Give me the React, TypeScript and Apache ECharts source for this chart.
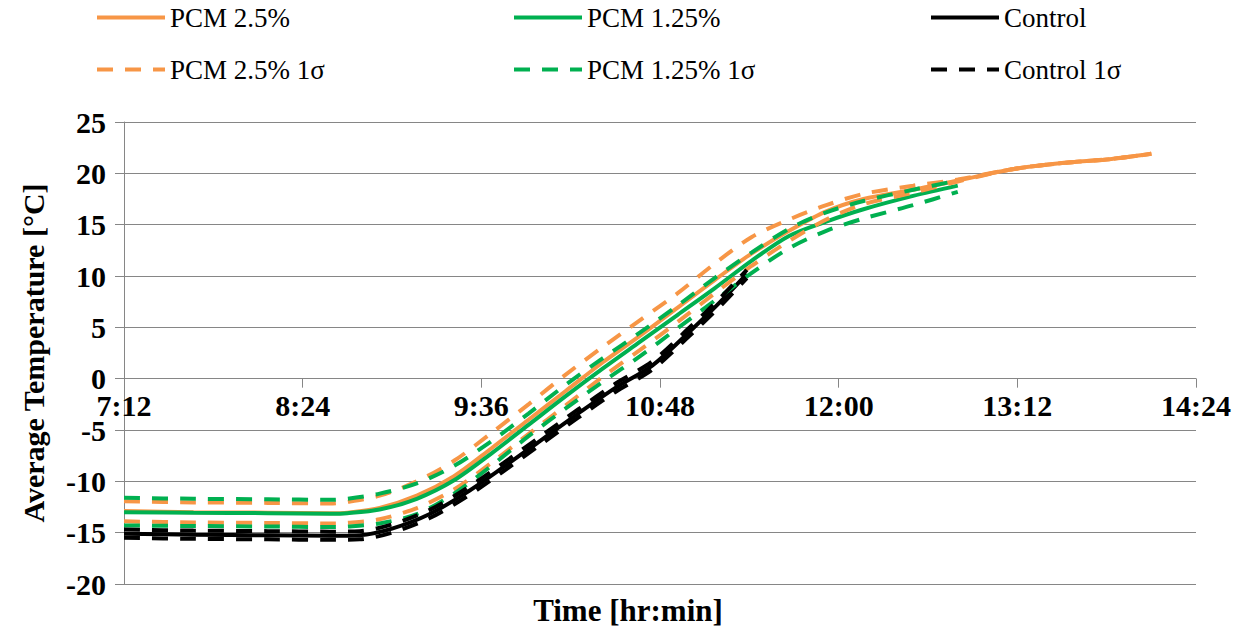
import React, { useEffect, useRef } from "react";
import * as echarts from "echarts";

const ORANGE = "#F79646";
const GREEN = "#00B050";
const BLACK = "#000000";
const GRID_GREY = "#868686";
const FONT = "Liberation Serif";

// time in minutes after midnight
const timesPcm25 = [432, 460, 490, 515, 522, 535, 550, 565, 580, 595, 610, 625, 640, 655, 670, 685, 700, 715, 730, 750, 768, 790, 810, 830, 846];
const timesPcm125 = [432, 460, 490, 515, 522, 535, 550, 565, 580, 595, 610, 625, 640, 655, 670, 685, 700, 715, 730, 750, 768];
const timesControl = [432, 460, 490, 515, 527, 540, 555, 570, 585, 600, 615, 630, 645, 660, 672, 683];

const pcm25Mean = [-12.9, -13.0, -13.05, -13.1, -13.05, -12.6, -11.4, -9.5, -6.8, -4.0, -1.2, 1.6, 4.2, 6.9, 9.6, 12.2, 14.4, 16.3, 17.5, 18.4, 19.3, 20.4, 21.0, 21.4, 21.9];
const pcm25Upper = [-11.95, -12.05, -12.1, -12.15, -12.0, -11.4, -10.0, -8.0, -5.3, -2.5, 0.4, 3.1, 5.7, 8.3, 11.2, 13.8, 15.5, 16.9, 18.0, 18.8, 19.4, 20.4, 21.0, 21.4, 21.9];
const pcm25Lower = [-13.9, -14.0, -14.05, -14.1, -14.05, -13.7, -12.6, -10.8, -8.2, -5.4, -2.6, 0.2, 2.8, 5.5, 8.3, 11.0, 13.4, 15.5, 17.0, 18.1, 19.2, 20.4, 21.0, 21.4, 21.9];

const pcm125Mean = [-13.0, -13.05, -13.1, -13.15, -13.1, -12.75, -11.7, -9.9, -7.3, -4.5, -1.7, 1.0, 3.6, 6.2, 8.8, 11.5, 13.9, 15.3, 16.5, 17.8, 18.8];
const pcm125Upper = [-11.6, -11.7, -11.75, -11.8, -11.7, -11.2, -10.2, -8.5, -6.1, -3.4, -0.6, 2.0, 4.5, 7.1, 9.8, 12.3, 14.6, 16.2, 17.3, 18.4, 19.3];
const pcm125Lower = [-14.3, -14.35, -14.4, -14.45, -14.4, -14.1, -13.2, -11.2, -8.5, -5.6, -2.9, -0.3, 2.2, 4.9, 7.6, 10.3, 12.7, 14.4, 15.6, 16.9, 18.2];

const controlMean = [-15.1, -15.2, -15.25, -15.3, -15.25, -14.6, -13.2, -11.1, -8.6, -6.0, -3.4, -0.9, 1.3, 4.6, 7.4, 10.2];
const controlUpper = [-14.7, -14.8, -14.85, -14.9, -14.85, -14.2, -12.8, -10.7, -8.2, -5.6, -3.0, -0.5, 1.7, 5.0, 7.8, 10.6];
const controlLower = [-15.5, -15.6, -15.65, -15.7, -15.65, -15.0, -13.6, -11.5, -9.0, -6.4, -3.8, -1.3, 0.9, 4.2, 7.0, 9.8];

const xMin = 432;
const xMax = 864;
const xStep = 72;
const yMin = -20;
const yMax = 25;
const yStep = 5;

const GRID_TOP = 122;
const GRID_BOTTOM = 45;
const CHART_H = 629;

const DASH = [16, 12];

function pairs(times: number[], values: number[]) {
  return values.map((v, i) => [times[i], v]);
}

function fmtTime(v: number) {
  const h = Math.floor(v / 60);
  const m = Math.round(v - h * 60);
  return `${h}:${m < 10 ? "0" + m : m}`;
}

function lineSeries(name: string, color: string, times: number[], values: number[], dashed: boolean) {
  return {
    name,
    type: "line",
    data: pairs(times, values),
    symbol: "none",
    smooth: 0.3,
    lineStyle: { color, width: 4, type: dashed ? DASH : "solid", cap: "butt" },
    itemStyle: { color },
  };
}

function legendAt(name: string, left: number, top: number) {
  return {
    data: [name],
    left,
    top,
    padding: 0,
    itemWidth: 68,
    itemHeight: 4,
    itemGap: 0,
    selectedMode: false,
    itemStyle: { opacity: 0 },
    lineStyle: { width: 4 },
    textStyle: { fontFamily: FONT, fontSize: 27, color: "#000" },
  };
}

export default function App() {
  const ref = useRef<HTMLDivElement>(null);

  useEffect(() => {
    if (!ref.current) return;
    const chart = echarts.init(ref.current, undefined, { renderer: "svg" });
    // x axis line sits at y = 0 (Excel style "axis crosses at 0")
    const plotH = CHART_H - GRID_TOP - GRID_BOTTOM;
    const zeroOffset = -plotH * ((0 - yMin) / (yMax - yMin));
    const option = {
      animation: false,
      backgroundColor: "#ffffff",
      textStyle: { fontFamily: FONT },
      legend: [
        legendAt("PCM 2.5%", 95, 4),
        legendAt("PCM 1.25%", 512, 4),
        legendAt("Control", 929, 4),
        legendAt("PCM 2.5% 1σ", 95, 56),
        legendAt("PCM 1.25% 1σ", 512, 56),
        legendAt("Control 1σ", 929, 56),
      ],
      grid: { left: 124, right: 48, top: GRID_TOP, bottom: GRID_BOTTOM, outerBoundsMode: "none" },
      xAxis: {
        type: "value",
        min: xMin,
        max: xMax,
        interval: xStep,
        position: "bottom",
        offset: zeroOffset,
        name: "Time [hr:min]",
        nameLocation: "middle",
        nameGap: 216,
        nameTextStyle: {
          fontFamily: FONT,
          fontSize: 31,
          fontWeight: "bold",
          color: "#000",
          padding: [0, 64, 0, 0],
        },
        axisLine: { onZero: false, lineStyle: { color: GRID_GREY, width: 1 } },
        axisTick: { show: true, length: 9, lineStyle: { color: GRID_GREY } },
        axisLabel: {
          formatter: (v: number) => fmtTime(v),
          fontFamily: FONT,
          fontSize: 30,
          fontWeight: "bold",
          color: "#000",
          margin: 12,
        },
        splitLine: { show: false },
      },
      yAxis: {
        type: "value",
        min: yMin,
        max: yMax,
        interval: yStep,
        name: "Average Temperature [°C]",
        nameLocation: "middle",
        nameGap: 76,
        nameTextStyle: { fontFamily: FONT, fontSize: 30, fontWeight: "bold", color: "#000" },
        axisLine: { show: true, onZero: false, lineStyle: { color: GRID_GREY, width: 1 } },
        axisTick: { show: true, length: 9, lineStyle: { color: GRID_GREY } },
        axisLabel: {
          fontFamily: FONT,
          fontSize: 30,
          fontWeight: "bold",
          color: "#000",
          margin: 18,
        },
        splitLine: { show: true, lineStyle: { color: GRID_GREY, width: 1 } },
      },
      series: [
        lineSeries("PCM 2.5%", ORANGE, timesPcm25, pcm25Mean, false),
        lineSeries("PCM 1.25%", GREEN, timesPcm125, pcm125Mean, false),
        lineSeries("Control", BLACK, timesControl, controlMean, false),
        lineSeries("PCM 2.5% 1σ", ORANGE, timesPcm25, pcm25Upper, true),
        lineSeries("PCM 2.5% 1σ", ORANGE, timesPcm25, pcm25Lower, true),
        lineSeries("PCM 1.25% 1σ", GREEN, timesPcm125, pcm125Upper, true),
        lineSeries("PCM 1.25% 1σ", GREEN, timesPcm125, pcm125Lower, true),
        lineSeries("Control 1σ", BLACK, timesControl, controlUpper, true),
        lineSeries("Control 1σ", BLACK, timesControl, controlLower, true),
      ],
    };
    chart.setOption(option as any);
    return () => chart.dispose();
  }, []);

  return (
    <div
      ref={ref}
      style={{ position: "fixed", left: 0, top: 0, width: 1244, height: 629, background: "#fff" }}
    />
  );
}
